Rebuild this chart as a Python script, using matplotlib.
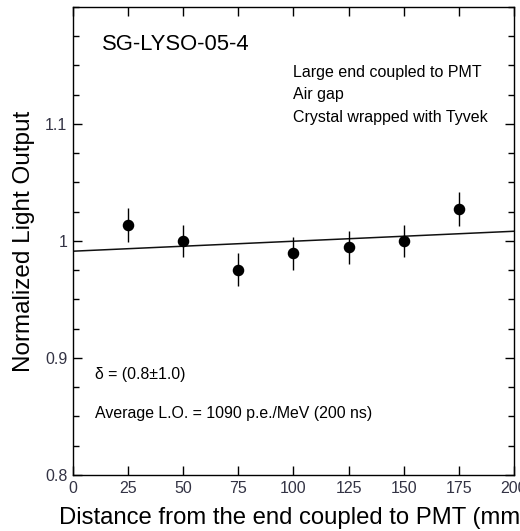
import numpy as np
import matplotlib
matplotlib.use('Agg')
import matplotlib.pyplot as plt
from matplotlib.ticker import MultipleLocator

plt.rcParams['font.family'] = ['Liberation Sans', 'DejaVu Sans']

# measured points
dist = np.array([25, 50, 75, 100, 125, 150, 175])
lo = np.array([1.014, 1.000, 0.9756, 0.9895, 0.9946, 1.000, 1.0276])
lo_err = np.array([0.0145, 0.014, 0.014, 0.014, 0.014, 0.014, 0.0145])

x_ticks = [0, 25, 50, 75, 100, 125, 150, 175, 200]
y_ticks = [0.8, 0.9, 1.0, 1.1]
y_labels = ['0.8', '0.9', '1', '1.1']

# linear fit
coef = np.polyfit(dist, lo, 1, w=1 / lo_err)
xf = np.array([0, 200])
yf = np.polyval(coef, xf)

fig = plt.figure(figsize=(5.2, 5.31), dpi=100)
ax = fig.add_axes([0.1404, 0.1055, 0.848, 0.8814])

ax.plot(xf, yf, color='#111111', lw=1.1)
ax.errorbar(dist, lo, yerr=lo_err, fmt='o', color='black', ms=7.3,
            elinewidth=1.0, capsize=0)

ax.set_xlim(0, 200)
ax.set_ylim(0.8, 1.2)
ax.set_xticks(x_ticks)
ax.set_yticks(y_ticks)
ax.set_yticklabels(y_labels)
ax.yaxis.set_minor_locator(MultipleLocator(0.025))

ax.tick_params(which='both', direction='in', top=True, right=True,
               width=1.0, labelsize=11.5, labelcolor='#333344')
ax.tick_params(which='major', length=6.5, pad=4)
ax.tick_params(which='minor', length=4.5)
for s in ax.spines.values():
    s.set_linewidth(1.0)

ax.set_xlabel('Distance from the end coupled to PMT (mm)', fontsize=17.2, labelpad=8)
ax.set_ylabel('Normalized Light Output', fontsize=17.5, labelpad=7)

ax.text(0.065, 0.919, 'SG-LYSO-05-4', transform=ax.transAxes, fontsize=15.8,
        va='center', ha='left')
info = ['Large end coupled to PMT', 'Air gap', 'Crystal wrapped with Tyvek']
for i, t in enumerate(info):
    ax.text(0.499, 0.861 - i * 0.049, t, transform=ax.transAxes, fontsize=11.5,
            va='center', ha='left')
ax.text(0.05, 0.214, 'δ = (0.8±1.0)', transform=ax.transAxes, fontsize=11.4,
        va='center', ha='left')
ax.text(0.05, 0.132, 'Average L.O. = 1090 p.e./MeV (200 ns)', transform=ax.transAxes,
        fontsize=11.4, va='center', ha='left')

fig.savefig('out.png', dpi=100)
